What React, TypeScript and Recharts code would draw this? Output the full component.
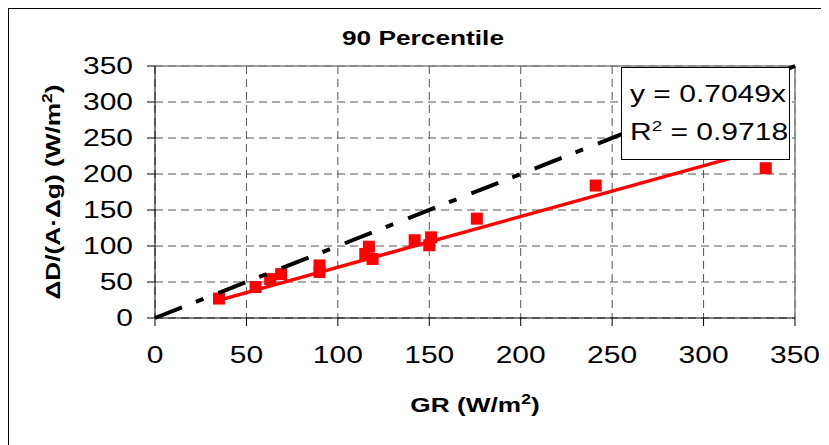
import React from 'react';
import {
  ScatterChart,
  Scatter,
  XAxis,
  YAxis,
  CartesianGrid,
  ReferenceLine,
} from 'recharts';

// measured GR (x) vs ΔD/(A·Δg) (y)
const grValues = [35, 55, 63, 69, 90, 90, 115, 117, 119, 142, 150, 151, 176, 241, 334];
const dValues = [27, 43, 54, 61, 73, 64, 89, 99, 82, 108, 101, 112, 138, 184, 208];

const axisTicks = [0, 50, 100, 150, 200, 250, 300, 350];

const trendSlope = 0.7049;
const trendR2 = 0.9718;
const trendXRange = [33, 335];
const identityRange = [0, 350];

const points = grValues.map((x, i) => ({ x, y: dValues[i] }));
const trendLine = trendXRange.map((x) => ({ x, y: trendSlope * x }));
const identityLine = identityRange.map((x) => ({ x, y: x }));

const FONT = '"Liberation Sans", Arial, Helvetica, sans-serif';
const STRETCH = 1.25;

const XTick = ({ x, y, payload }: any) => (
  <g transform={`translate(${x},${y})`}>
    <text transform={`scale(${STRETCH},1)`} textAnchor="middle" y={27} dy="0.35em" fontSize={24} fontFamily={FONT} fill="#000">
      {payload.value}
    </text>
  </g>
);

const YTick = ({ x, y, payload }: any) => (
  <g transform={`translate(${x - 12},${y})`}>
    <text transform={`scale(${STRETCH},1)`} textAnchor="end" dy="0.35em" fontSize={24} fontFamily={FONT} fill="#000">
      {payload.value}
    </text>
  </g>
);

const YLabel = ({ viewBox }: any) => {
  const cy = viewBox.y + viewBox.height / 2;
  return (
    <g transform={`translate(44,${cy}) rotate(-90) scale(${STRETCH},1)`}>
      <text textAnchor="middle" dy="0.35em" fontSize={21} fontWeight="bold" fontFamily={FONT} fill="#000">
        ΔD/(A·Δg) (W/m<tspan dy={-8} fontSize={14}>2</tspan><tspan dy={8}>)</tspan>
      </text>
    </g>
  );
};

const XLabel = ({ viewBox }: any) => {
  const cx = viewBox.x + viewBox.width / 2;
  return (
    <g transform={`translate(${cx},396) scale(${STRETCH},1)`}>
      <text textAnchor="middle" dy="0.35em" fontSize={21} fontWeight="bold" fontFamily={FONT} fill="#000">
        GR (W/m<tspan dy={-8} fontSize={14}>2</tspan><tspan dy={8}>)</tspan>
      </text>
    </g>
  );
};

const RedSquare = (props: any) => (
  <rect x={props.cx - 6} y={props.cy - 6} width={12} height={12} fill="#FF0000" />
);

const NoDot = () => <g />;

export default function App() {
  return (
    <div
      style={{
        position: 'relative',
        width: 824,
        height: 436,
        border: '1px solid #000',
        background: '#fff',
        fontFamily: FONT,
      }}
    >
      <div
        style={{
          position: 'absolute',
          left: 0,
          top: 17,
          width: 828,
          textAlign: 'center',
          fontSize: 21,
          fontWeight: 'bold',
          lineHeight: '24px',
          transform: `scaleX(${STRETCH})`,
        }}
      >
        90 Percentile
      </div>
      <ScatterChart width={819} height={436} margin={{ top: 57, right: 33, bottom: 67, left: 0 }}>
        <CartesianGrid stroke="#555" strokeDasharray="8 5" />
        <XAxis
          type="number"
          dataKey="x"
          domain={[0, 350]}
          ticks={axisTicks}
          height={60}
          tickSize={8}
          axisLine={{ stroke: '#000' }}
          tickLine={{ stroke: '#000' }}
          tick={<XTick />}
          label={{ content: XLabel }}
        />
        <YAxis
          type="number"
          dataKey="y"
          domain={[0, 350]}
          ticks={axisTicks}
          width={146}
          tickSize={8}
          axisLine={{ stroke: '#000' }}
          tickLine={{ stroke: '#000' }}
          tick={<YTick />}
          label={{ content: YLabel }}
        />
        <ReferenceLine y={350} stroke="#808080" strokeWidth={1.5} />
        <ReferenceLine x={350} stroke="#808080" strokeWidth={1.5} />
        <Scatter
          data={trendLine}
          line={{ stroke: '#FF0000', strokeWidth: 3.5 }}
          shape={NoDot}
          isAnimationActive={false}
        />
        <Scatter data={points} shape={RedSquare} isAnimationActive={false} />
        <Scatter
          data={identityLine}
          line={{ stroke: '#000', strokeWidth: 4, strokeDasharray: '29 15 8 16' }}
          shape={NoDot}
          isAnimationActive={false}
        />
      </ScatterChart>
      <div
        style={{
          position: 'absolute',
          left: 612,
          top: 58,
          width: 167,
          height: 91,
          border: '1px solid #000',
          background: '#fff',
          boxSizing: 'content-box',
        }}
      >
        <div style={{ position: 'absolute', left: 8, top: 7, fontSize: 24, lineHeight: '38px', whiteSpace: 'nowrap', transform: `scaleX(${STRETCH})`, transformOrigin: 'left center' }}>
          <div>y = {trendSlope.toFixed(4)}x</div>
          <div>
            R<span style={{ fontSize: 15, position: 'relative', top: -9 }}>2</span> = {trendR2.toFixed(4)}
          </div>
        </div>
      </div>
    </div>
  );
}
